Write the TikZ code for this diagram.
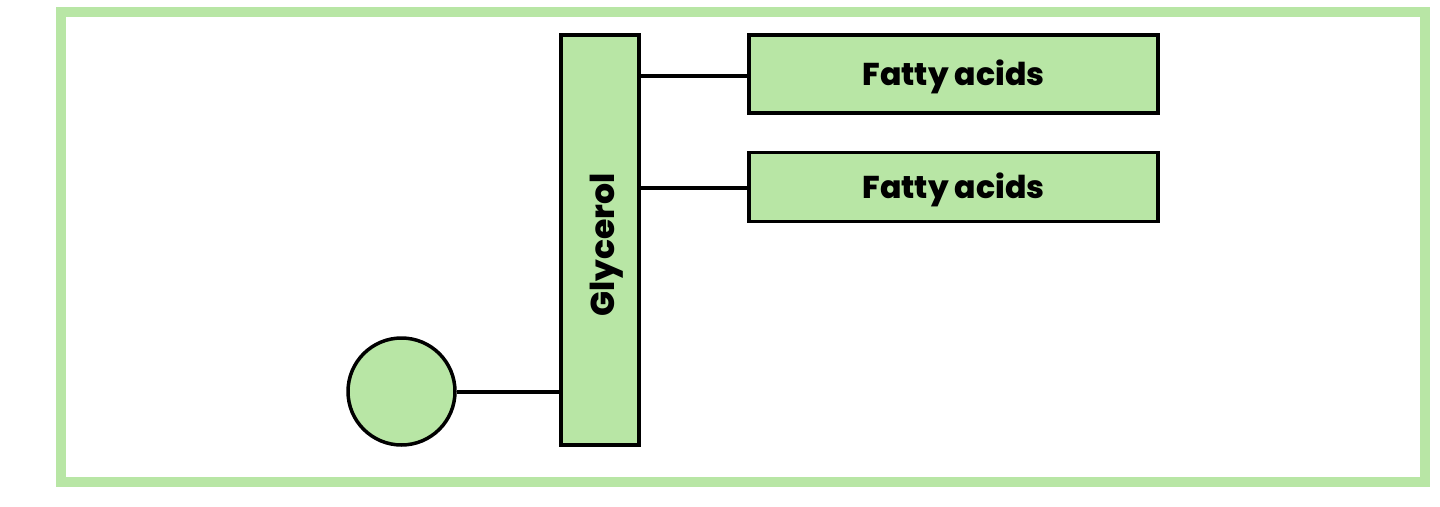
\documentclass[tikz,border=0pt]{standalone}
\usepackage{fontspec}
\setmainfont{Poppins}[BoldFont={* ExtraBold}]
\definecolor{lg}{HTML}{B8E6A5}
\begin{document}
\begin{tikzpicture}[x=1pt,y=-1pt,
  lbl/.style={font=\bfseries\fontsize{31.5}{36}\selectfont, text height=22pt, text depth=0pt},
  box/.style={draw=black, line width=3.5pt, fill=lg, inner sep=0pt, lbl},
  link/.style={draw=black, line width=4pt}]
\useasboundingbox (0,0) rectangle (1440,506);
\draw[lg, line width=10pt] (61,12) rectangle (1425,482);
\node[box, minimum width=78pt, minimum height=410pt] (gly) at (600,240) {};
\node[lbl, font=\bfseries\fontsize{33}{36}\selectfont, inner sep=0pt, rotate=90] (glyt) at (603,245) {Glycerol};
\node[box, minimum width=409pt, minimum height=78pt] (fa1) at (953.5,74) {Fatty acids};
\node[box, minimum width=409pt, minimum height=69pt] (fa2) at (953.5,187) {Fatty acids};
\node[box, circle, minimum size=107pt] (c) at (401.5,391.5) {};
\draw[link] (gly.east |- 0,76) -- (fa1.west |- 0,76);
\draw[link] (gly.east |- 0,188) -- (fa2.west |- 0,188);
\draw[link] (c.east) -- (gly.west |- c.east);
\end{tikzpicture}
\end{document}
